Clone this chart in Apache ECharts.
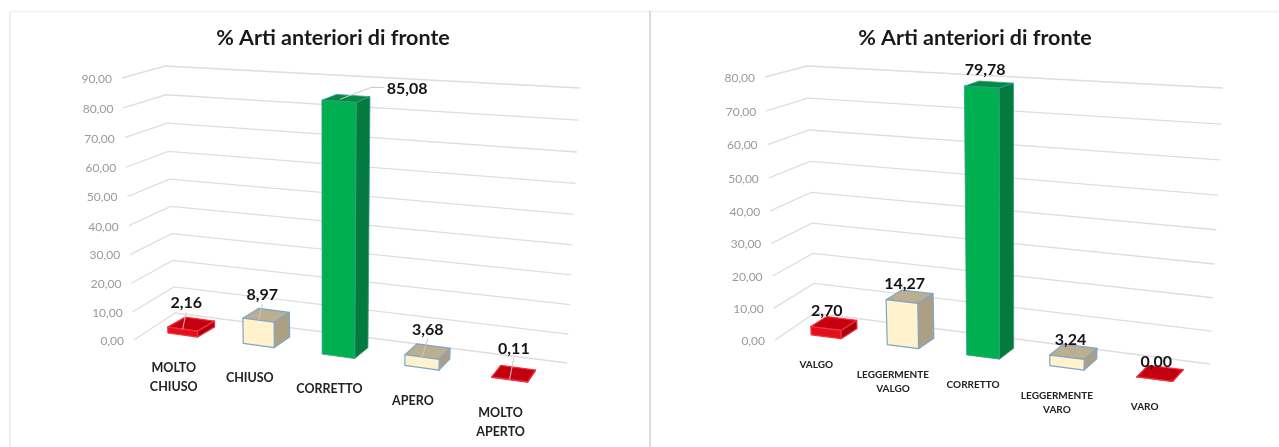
<!DOCTYPE html>
<html><head><meta charset="utf-8">
<style>html,body{margin:0;padding:0;background:#fff}#c{width:1279px;height:447px}</style>
<script src="https://cdn.jsdelivr.net/npm/echarts@6/dist/echarts.min.js"></script>
</head><body><div id="c"></div>
<script>
// ---- data ----
const categoriesA = ['MOLTO\nCHIUSO','CHIUSO','CORRETTO','APERO','MOLTO\nAPERTO'];
const valuesA = [2.16, 8.97, 85.08, 3.68, 0.11];
const categoriesB = ['VALGO','LEGGERMENTE\nVALGO','CORRETTO','LEGGERMENTE\nVARO','VARO'];
const valuesB = [2.70, 14.27, 79.78, 3.24, 0.00];
const ticksA = [0,10,20,30,40,50,60,70,80,90];
const ticksB = [0,10,20,30,40,50,60,70,80];
const chartTitle = '% Arti anteriori di fronte';
const tones = ['red','cream','green','cream','red'];

// ---- styles ----
const palette = {
  red:  {front:'#e2101f', top:'#c40010', side:'#a8000f', edge:'#f0303a'},
  cream:{front:'#fff2cc', top:'#bcae90', side:'#ad9f84', edge:'#7ea6c8'},
  green:{front:'#00b050', top:'#058a45', side:'#047a3e', edge:'#2f9c86'}
};
const FONT = 'Lato';

// ---- perspective planes: [bottom-left, bottom-right, top-right, top-left] ----
const layoutA = {
  grid:{left:146,top:70,width:409,height:290},
  wall:[[175,313],[567,363],[580,88],[165,66]],
  stub:[[134,340],[175,313],[165,66],[122,78]],
  front:[[146,330],[555,386],[568,99],[137,74]],
  back:[[164,320],[562,374],[576,94],[155,68]],
  catOff:[-9,33], catSize:12.5, catLine:19,
  tickGap:10,
  nudge:[[-5,-21],[-4,-20],[61,-10],[0,-22],[0,-25]],
  leaders:[true,true,true,true,true]
};
const layoutB = {
  grid:{left:788,top:70,width:412,height:290},
  wall:[[815,313],[1210,364],[1223,88],[807,66]],
  stub:[[775,340],[815,313],[807,66],[765,77]],
  front:[[789,332],[1200,385],[1212,99],[777,75]],
  back:[[805,322],[1210,373],[1221,95],[794,69]],
  catOff:[-10,28], catSize:10, catLine:14,
  tickGap:10,
  nudge:[[-7,-13],[-5,-13],[-4,-15],[-3,-12],[-4,-11]],
  leaders:[false,false,false,false,false]
};

function homography(q){
  const [x0,y0]=q[0],[x1,y1]=q[1],[x2,y2]=q[2],[x3,y3]=q[3];
  const dx1=x1-x2,dx2=x3-x2,sx=x0-x1+x2-x3,dy1=y1-y2,dy2=y3-y2,sy=y0-y1+y2-y3;
  const den=dx1*dy2-dx2*dy1, g=(sx*dy2-dx2*sy)/den, h=(dx1*sy-sx*dy1)/den;
  const a=x1-x0+g*x1,b=x3-x0+h*x3,d=y1-y0+g*y1,e=y3-y0+h*y3;
  return (u,v)=>{const w=g*u+h*v+1;return [(a*u+b*v+x0)/w,(d*u+e*v+y0)/w];};
}
function mid(p,q){return [(p[0]+q[0])/2,(p[1]+q[1])/2];}

function barParts(params,api,L){
  const cs=params.coordSys, i=api.value(0), val=api.value(1);
  const base=api.coord([i,0]), top=api.coord([i,val]), band=api.size([1,0])[0];
  const F=homography(L.front), B=homography(L.back);
  const u0=(base[0]-band*0.2-cs.x)/cs.width, u1=(base[0]+band*0.2-cs.x)/cs.width;
  const v1=(cs.y+cs.height-top[1])/cs.height;
  return {i,val,
    fb0:F(u0,0),fb1:F(u1,0),ft0:F(u0,v1),ft1:F(u1,v1),
    bb1:B(u1,0),bt0:B(u0,v1),bt1:B(u1,v1)};
}
function barsSeries(idx,values,L){
  return {type:'custom',xAxisIndex:idx,yAxisIndex:idx,z:3,silent:true,
    data:values.map((v,i)=>[i,v]),
    renderItem(params,api){
      const p=barParts(params,api,L), c=palette[tones[p.i]];
      const st=(fill)=>({fill,stroke:c.edge,lineWidth:p.i===2?0.8:1.2,lineJoin:'round'});
      return {type:'group',children:[
        {type:'polygon',shape:{points:[p.fb1,p.bb1,p.bt1,p.ft1]},style:st(c.side)},
        {type:'polygon',shape:{points:[p.ft0,p.ft1,p.bt1,p.bt0]},style:st(c.top)},
        {type:'polygon',shape:{points:[p.fb0,p.fb1,p.ft1,p.ft0]},style:st(c.front)}
      ]};
    }};
}
function valueLabelSeries(idx,values,L){
  return {type:'custom',xAxisIndex:idx,yAxisIndex:idx,z:5,silent:true,
    data:values.map((v,i)=>[i,v]),
    renderItem(params,api){
      const p=barParts(params,api,L), n=L.nudge[p.i];
      const topMid=mid(mid(p.ft0,p.ft1),mid(p.bt0,p.bt1));
      const x=topMid[0]+n[0], y=topMid[1]+n[1];
      const kids=[];
      if(L.leaders[p.i]){
        const end=mid(p.ft0,p.ft1);
        const pts=p.i===2?[[x-23,y-1],[x-36,y-1],[topMid[0]-6,end[1]-2]]:[[x,y+9],end];
        kids.push({type:'polyline',shape:{points:pts},
          style:{stroke:'#c8c8c8',lineWidth:1,fill:'none'}});
      }
      kids.push({type:'text',style:{x,y,text:api.value(1).toFixed(2).replace('.',','),
        fill:'#141414',fontFamily:FONT,fontWeight:'bold',fontSize:16,align:'center',verticalAlign:'middle'}});
      return {type:'group',children:kids};
    }};
}
function categorySeries(idx,values,cats,L){
  return {type:'custom',xAxisIndex:idx,yAxisIndex:idx,z:5,silent:true,
    data:values.map((v,i)=>[i,v]),
    renderItem(params,api){
      const p=barParts(params,api,L), m=mid(p.fb0,p.fb1);
      return {type:'text',style:{x:m[0]+L.catOff[0],y:m[1]+L.catOff[1]-L.catLine/2,
        text:cats[p.i],fill:'#222222',fontFamily:FONT,fontWeight:'bold',fontSize:L.catSize,
        lineHeight:L.catLine,align:'center',verticalAlign:'top'}};
    }};
}
function wallSeries(idx,ticks,L){
  return {type:'custom',xAxisIndex:idx,yAxisIndex:idx,z:1,silent:true,
    data:ticks.map(t=>[0,t]),
    renderItem(params,api){
      const cs=params.coordSys, t=api.value(1);
      const v=(cs.y+cs.height-api.coord([0,t])[1])/cs.height;
      const W=homography(L.wall), S=homography(L.stub);
      const a=S(0,v), b=W(0,v), e=W(1,v);
      return {type:'group',children:[
        {type:'polyline',shape:{points:[a,b,e]},style:{stroke:'#dedede',lineWidth:1.3,fill:'none'}},
        {type:'text',style:{x:a[0]-L.tickGap,y:a[1]+1,text:t.toFixed(2).replace('.',','),
          fill:'#9a9a9a',fontFamily:FONT,fontSize:12,align:'right',verticalAlign:'middle'}}
      ]};
    }};
}
const frameLine=(x1,y1,x2,y2,stroke,w)=>({type:'line',silent:true,z:0,
  shape:{x1,y1,x2,y2},style:{stroke,lineWidth:w}});

const chart=echarts.init(document.getElementById('c'));
chart.setOption({
  animation:false,backgroundColor:'#ffffff',
  title:[
    {text:chartTitle,left:328,top:22,textAlign:'center',
     textStyle:{fontFamily:FONT,fontWeight:'bold',fontSize:21.5,color:'#1a1a1a'}},
    {text:chartTitle,left:970,top:22,textAlign:'center',
     textStyle:{fontFamily:FONT,fontWeight:'bold',fontSize:21.5,color:'#1a1a1a'}}
  ],
  grid:[layoutA.grid,layoutB.grid],
  xAxis:[{type:'category',gridIndex:0,data:categoriesA,show:false},
         {type:'category',gridIndex:1,data:categoriesB,show:false}],
  yAxis:[{type:'value',gridIndex:0,min:0,max:90,interval:10,show:false},
         {type:'value',gridIndex:1,min:0,max:80,interval:10,show:false}],
  graphic:[
    frameLine(10,11.5,1279,11.5,'#f3f3f3',2),
    frameLine(10,11,10,447,'#f0f0f0',2),
    frameLine(650,11,650,447,'#dcdcdc',2)
  ],
  series:[
    wallSeries(0,ticksA,layoutA),wallSeries(1,ticksB,layoutB),
    barsSeries(0,valuesA,layoutA),barsSeries(1,valuesB,layoutB),
    valueLabelSeries(0,valuesA,layoutA),valueLabelSeries(1,valuesB,layoutB),
    categorySeries(0,valuesA,categoriesA,layoutA),categorySeries(1,valuesB,categoriesB,layoutB)
  ]
});
</script></body></html>
